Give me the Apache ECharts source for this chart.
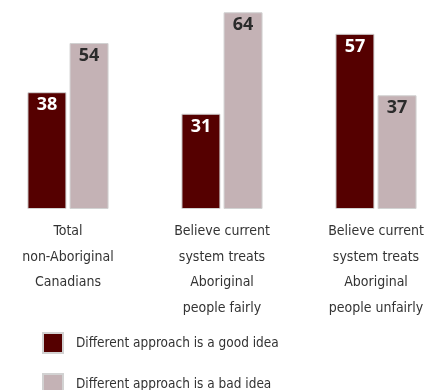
<!DOCTYPE html>
<html>
<head>
<meta charset="utf-8">
<script src="https://cdn.jsdelivr.net/npm/echarts@6/dist/echarts.min.js"></script>
<style>
  html, body { margin: 0; padding: 0; background: #ffffff; }
  #chart { width: 435px; height: 390px; }
</style>
</head>
<body>
<div id="chart"></div>
<script>
// Survey groups shown along the x axis
const categories = [
  'Total\nnon-Aboriginal\nCanadians',
  'Believe current\nsystem treats\nAboriginal\npeople fairly',
  'Believe current\nsystem treats\nAboriginal\npeople unfairly'
];
// Percent of respondents per answer
const goodIdea = [38, 31, 57];
const badIdea = [54, 64, 37];
const seriesNames = ['Different approach is a good idea', 'Different approach is a bad idea'];

const darkRed = '#550000';
const mauve = '#c4b2b5';
const edge = '#d2d2d2';
const textFont = '"DejaVu Sans Condensed", sans-serif';

const valueLabel = (color) => ({
  show: true,
  position: 'insideTop',
  distance: 4,
  color: color,
  fontFamily: '"Open Sans", sans-serif',
  fontWeight: 'bold',
  fontSize: 18
});

const chart = echarts.init(document.getElementById('chart'));
chart.setOption({
  animation: false,
  grid: { left: 68, right: 59, top: 0, height: 209, containLabel: false },
  legend: {
    orient: 'vertical',
    left: 37,
    top: 327,
    height: 100,
    itemWidth: 20,
    itemHeight: 20,
    itemGap: 19,
    icon: 'rect',
    textStyle: { fontFamily: textFont, fontSize: 13.5, color: '#333333', padding: [0, 0, 0, 8] },
    data: seriesNames
  },
  xAxis: {
    type: 'category',
    boundaryGap: false,
    data: categories,
    axisLine: { show: false },
    axisTick: { show: false },
    axisLabel: {
      margin: 10,
      fontFamily: textFont,
      fontSize: 14,
      lineHeight: 25.5,
      color: '#333333',
      align: 'center'
    }
  },
  yAxis: {
    type: 'value',
    min: 0,
    max: 68,
    show: false
  },
  series: [
    {
      name: seriesNames[0],
      type: 'bar',
      data: goodIdea,
      barWidth: 39,
      barGap: '8%',
      itemStyle: { color: darkRed, borderColor: edge, borderWidth: 1 },
      label: valueLabel('#ffffff')
    },
    {
      name: seriesNames[1],
      type: 'bar',
      data: badIdea,
      barWidth: 39,
      itemStyle: { color: mauve, borderColor: edge, borderWidth: 1 },
      label: valueLabel('#2b2b2b')
    }
  ]
});
</script>
</body>
</html>
